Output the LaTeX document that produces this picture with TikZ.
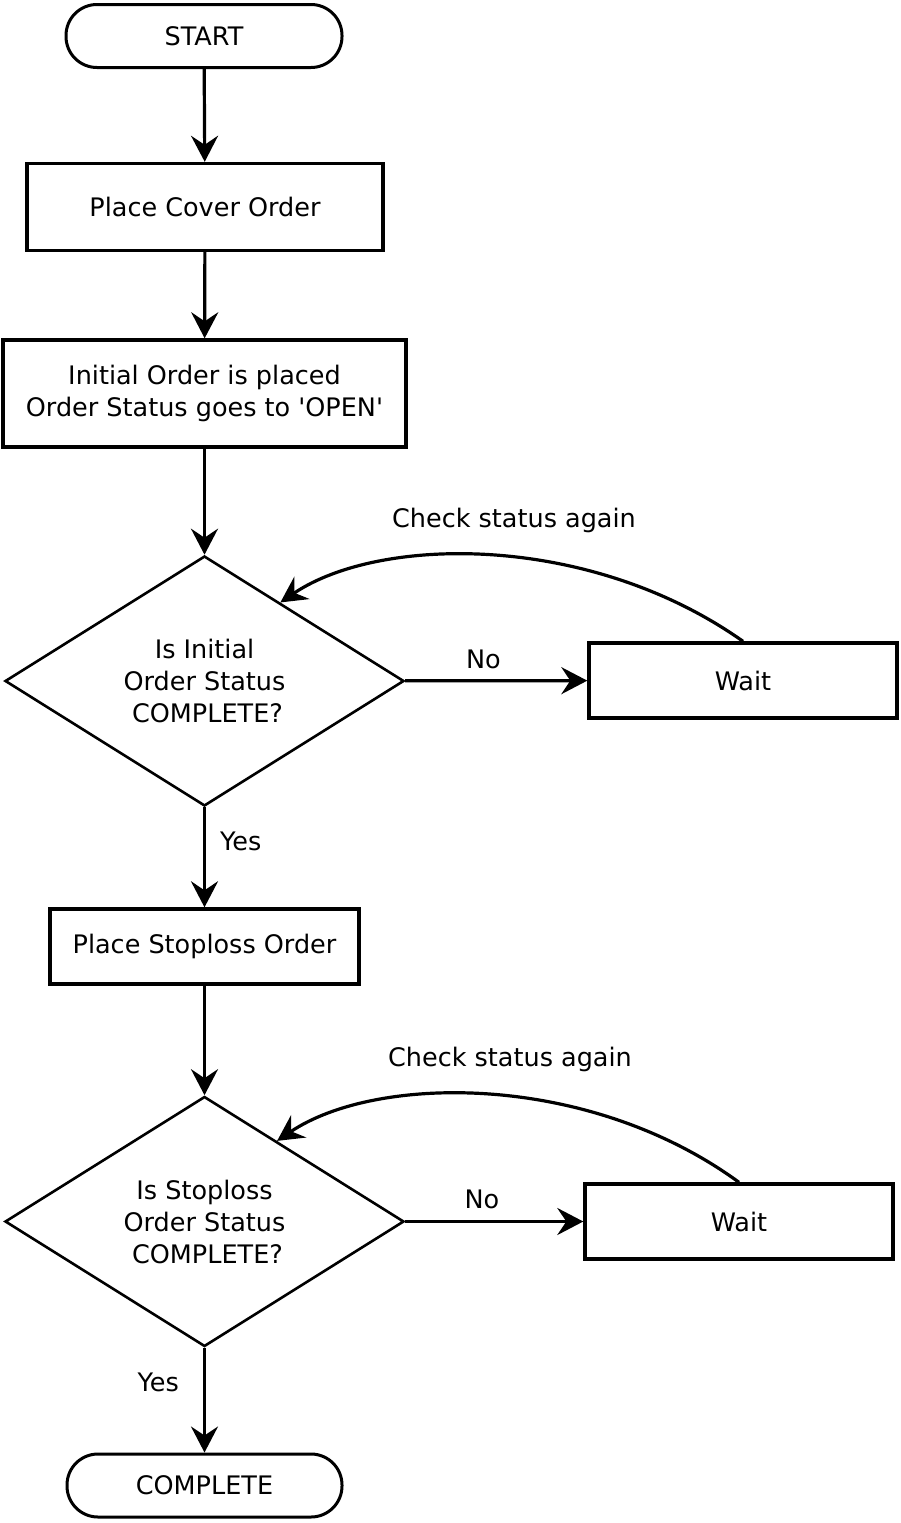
\documentclass[tikz,border=0pt]{standalone}
\usepackage{fontspec}
\setmainfont{DejaVu Sans}
\usetikzlibrary{arrows.meta,shapes.geometric}

\begin{document}
\begin{tikzpicture}[x=1pt,y=-1pt,
	every node/.style={font=\fontsize{25.5}{32}\selectfont, align=center},
	term/.style={draw, line width=3pt, rounded corners=31pt, minimum width=276pt, minimum height=63pt},
	box/.style={draw, line width=3.4pt, minimum height=75pt},
	decision/.style={diamond, draw, line width=2.6pt, aspect=1.6, inner sep=0pt, minimum width=399pt, minimum height=250pt},
	arr/.style={-{Stealth[length=26pt, width=27pt, inset=9pt]}, line width=3.2pt},
	lbl/.style={inner sep=2pt}]
\useasboundingbox (0,0) rectangle (900,1523);
% main column
\node[term] (start) at (204,36) {START};
\node[box, minimum width=356pt, minimum height=87pt] (cover) at (205,207) {Place Cover Order};
\node[box, minimum width=403pt, minimum height=107pt] (initial) at (204.5,393.5) {Initial Order is placed\\Order Status goes to \textquotesingle OPEN\textquotesingle};
\node[decision] (isinit) at (204.5,681) {Is Initial\\Order Status\\\hspace*{6pt}COMPLETE?};
\node[box, minimum width=308pt] (waitinit) at (743,680.5) {Wait};
\node[box, minimum width=309pt] (stoploss) at (204.5,946.5) {Place Stoploss Order};
\node[decision] (isstop) at (204.5,1221.5) {Is Stoploss\\Order Status\\\hspace*{6pt}COMPLETE?};
\node[box, minimum width=308pt] (waitstop) at (739,1221.5) {Wait};
\node[term, minimum width=275pt] (done) at (204.5,1485.5) {COMPLETE};
% loop labels
\node[lbl] (againinit) at (514,520) {Check status again};
\node[lbl] (againstop) at (510,1059) {Check status again};

\draw[arr] (start) -- (cover);
\draw[arr] (cover) -- (initial);
\draw[arr] (initial) -- (isinit);
\draw[arr] (isinit) -- node[lbl, pos=0.43, above=8pt] (noinit) {No} (waitinit);
\draw[arr] (waitinit.north) .. controls (590,533) and (380,535) .. (isinit.46);
\draw[arr] (isinit) -- node[lbl, pos=0.34, right=12pt] (yesinit) {Yes} (stoploss);
\draw[arr] (stoploss) -- (isstop);
\draw[arr] (isstop) -- node[lbl, pos=0.43, above=9pt] (nostop) {No} (waitstop);
\draw[arr] (waitstop.north) .. controls (588,1072) and (376,1074) .. (isstop.48);
\draw[arr] (isstop) -- node[lbl, pos=0.33, left=22pt] (yesstop) {Yes} (done);
\end{tikzpicture}
\end{document}
